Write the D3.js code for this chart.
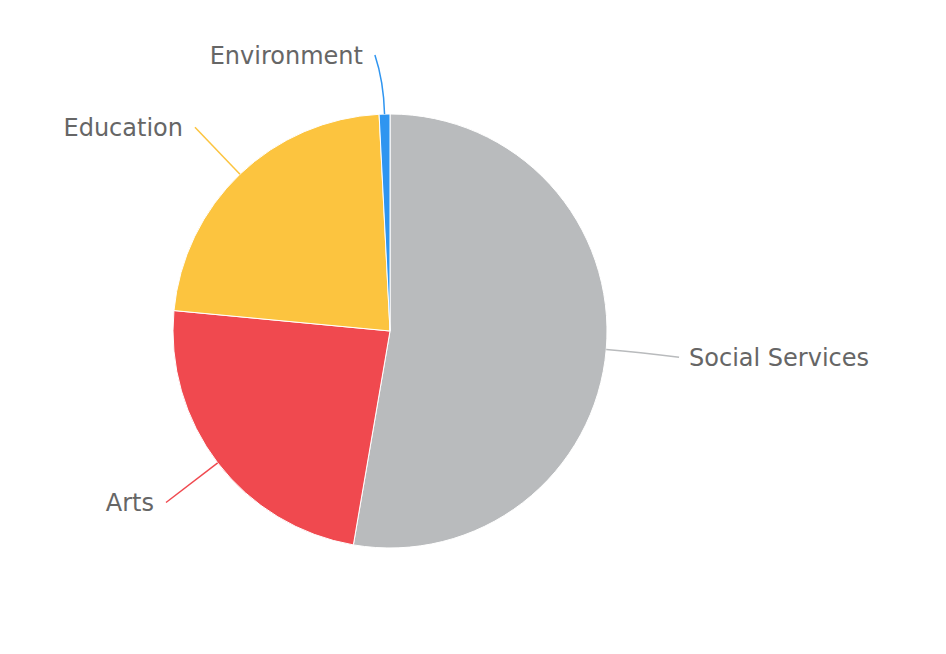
<!DOCTYPE html>
<html><head><meta charset="utf-8">
<script src="https://cdn.jsdelivr.net/npm/d3@7"></script>
<style>body{margin:0;background:#fff}</style></head>
<body><svg id="c" width="946" height="654"></svg>
<script>
const categories = ["Social Services","Arts","Education","Environment"];
const values = [52.7, 23.8, 22.7, 0.8];
const colors = ["#b9bbbd","#f0494f","#fcc43f","#2f95f0"];

const svg = d3.select("#c");
const cx = 390, cy = 331, r = 217;
const g = svg.append("g").attr("transform",`translate(${cx},${cy})`);
const pie = d3.pie().sort(null).value(d=>d)(values);
const arc = d3.arc().innerRadius(0).outerRadius(r);
g.selectAll("path.s").data(pie).join("path").attr("class","s")
  .attr("d",arc).attr("fill",(d,i)=>colors[i]).attr("stroke","#fff").attr("stroke-width",1);

const pt = (a,k)=>[Math.sin(a)*r*k, -Math.cos(a)*r*k];
pie.forEach((d,i)=>{
  const a=(d.startAngle+d.endAngle)/2;
  const p1=pt(a,1), p2=pt(a,1.15), p3=pt(a,1.3);
  const right = Math.sin(a)>0.05;
  let end = right ? [p3[0]+8,p2[1]+5] : [p3[0],p3[1]];
  if(i===3){ end=[p3[0]-8,p3[1]+6]; }
  g.append("path").attr("d",`M${p1}Q${p2} ${end}`).attr("fill","none")
    .attr("stroke",colors[i]).attr("stroke-width",1.5);
  g.append("text").attr("x",end[0]+(right?10:-12)).attr("y",end[1]+9)
    .attr("text-anchor",right?"start":"end")
    .attr("font-family","'DejaVu Sans',sans-serif").attr("font-size",24)
    .attr("fill","#666").text(categories[i]);
});
</script></body></html>
